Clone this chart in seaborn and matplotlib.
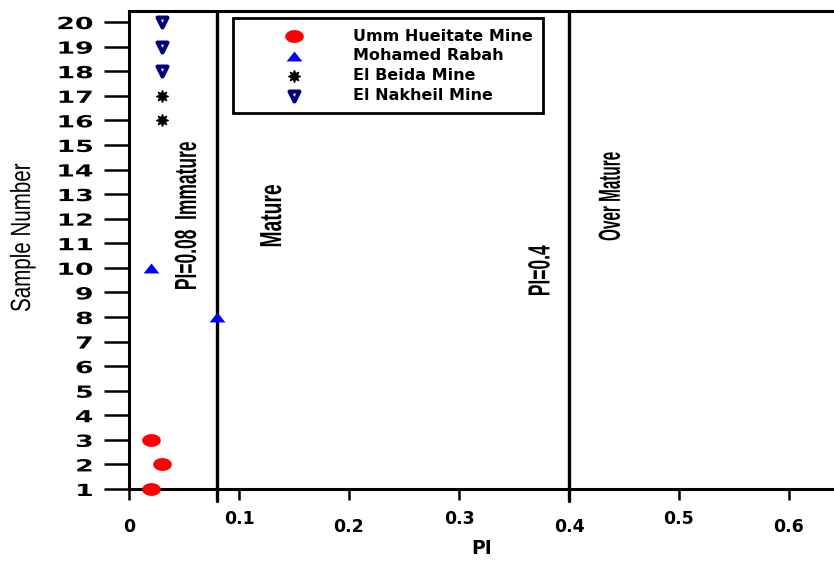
import numpy as np
import pandas as pd
import matplotlib
matplotlib.use('Agg')
import matplotlib.pyplot as plt
from matplotlib.path import Path
from matplotlib.patheffects import AbstractPathEffect
from matplotlib.transforms import Affine2D
import seaborn as sns

# sample data (PI vs sample number)
umm_pi = [0.02, 0.03, 0.02]
umm_sample = [1, 2, 3]
rabah_pi = [0.02, 0.08]
rabah_sample = [10, 8]
beida_pi = [0.03, 0.03]
beida_sample = [16, 17]
nakheil_pi = [0.03, 0.03, 0.03]
nakheil_sample = [18, 19, 20]

x_ticks = [0, 0.1, 0.2, 0.3, 0.4, 0.5, 0.6]
x_tick_labels = ['0', '0.1', '0.2', '0.3', '0.4', '0.5', '0.6']
y_ticks = list(range(1, 21))
boundaries = [0.08, 0.4]

sns.set_style('ticks')
plt.rcParams['font.family'] = ['DejaVu Sans']
for k in ['text.color', 'axes.labelcolor', 'xtick.color', 'ytick.color']:
    plt.rcParams[k] = 'black'
plain = ['Liberation Sans', 'DejaVu Sans']


class Stretch(AbstractPathEffect):
    """squeeze/widen text glyphs along the baseline (narrow font look)"""
    def __init__(self, sx, anchor='center'):
        super().__init__()
        self.sx = sx
        self.anchor = anchor

    def draw_path(self, renderer, gc, tpath, affine, rgbFace=None):
        ext = tpath.get_extents()
        a = {'left': ext.x0, 'center': (ext.x0 + ext.x1) / 2, 'right': ext.x1}[self.anchor]
        t = Affine2D().translate(-a, 0).scale(self.sx, 1).translate(a, 0)
        renderer.draw_path(gc, tpath, t + affine, rgbFace)


# wide ellipse / flat triangle markers
t = np.linspace(0, 2 * np.pi, 40)
ellipse = Path(np.column_stack([1.45 * np.cos(t), np.sin(t)]))
flat_tri = Path([(-0.8, -0.5), (0.8, -0.5), (0, 0.5), (-0.8, -0.5)])

groups = [
    ('Umm Hueitate Mine', umm_pi, umm_sample, dict(marker=ellipse, s=180, color='#ff0000', edgecolor='#ff0000', linewidth=0)),
    ('Mohamed Rabah', rabah_pi, rabah_sample, dict(marker=flat_tri, s=130, color='#0000ff', edgecolor='#0000ff', linewidth=0)),
    ('El Beida Mine', beida_pi, beida_sample, dict(marker=(8, 1, 0), s=70, color='black', edgecolor='black', linewidth=1)),
    ('El Nakheil Mine', nakheil_pi, nakheil_sample, dict(marker='v', s=50, color='white', edgecolor='#000080', linewidth=3)),
]

fig = plt.figure(figsize=(8.34, 5.64), dpi=100)
ax = fig.add_axes([0.1547, 0.133, 0.8453, 0.8475])

for name, xs, ys, style in groups:
    df = pd.DataFrame({'PI': xs, 'Sample': ys})
    sns.scatterplot(data=df, x='PI', y='Sample', ax=ax, label=name, clip_on=False, zorder=5, **style)

for b in boundaries:
    ax.axvline(b, ymin=-0.025, color='black', linewidth=2.4, zorder=3, clip_on=False)

ax.set_xlim(0, 0.641)
ax.set_ylim(1, 20.45)
ax.set_xticks(x_ticks)
ax.set_xticklabels(x_tick_labels)
ax.set_yticks(y_ticks)

for s in ['left', 'bottom', 'top']:
    ax.spines[s].set_linewidth(2.2)
    ax.spines[s].set_color('black')
ax.spines['right'].set_visible(False)

ax.tick_params(axis='y', direction='out', length=18, width=1.8, pad=8, labelsize=12)
ax.tick_params(axis='x', direction='out', length=8, width=1.8, labelsize=12.5)
for i, tick in enumerate(ax.xaxis.get_major_ticks()):
    tick.set_pad(13 if i % 2 == 0 else 7)
for lab in ax.get_xticklabels():
    lab.set_fontweight('bold')
for lab in ax.get_yticklabels():
    lab.set_fontweight('bold')
    lab.set_path_effects([Stretch(1.6, 'right')])

ax.set_xlabel('PI', fontsize=13.5, fontweight='bold')
ax.xaxis.set_label_coords(0.5, -0.105)
ax.set_ylabel('Sample Number', fontsize=20, family=plain)
ax.yaxis.label.set_path_effects([Stretch(0.74)])
ax.yaxis.set_label_coords(-0.132, 0.525)

zones = [
    (0.0536, 12.1, 'PI=0.08  Immature', 0.57),
    (0.131, 12.1, 'Mature', 0.63),
    (0.375, 9.86, 'PI=0.4', 0.57),
    (0.439, 12.9, 'Over Mature', 0.50),
]
for zx, zy, txt, sq in zones:
    ax.text(zx, zy, txt, rotation=90, fontsize=22, family=plain, fontweight='bold',
            ha='center', va='center', path_effects=[Stretch(sq)])

leg = ax.legend(loc='upper left', bbox_to_anchor=(0.1475, 0.985), frameon=True, fancybox=False,
                fontsize=11.5, handlelength=6.3, handletextpad=0.56, labelspacing=0.3,
                borderpad=0.65, borderaxespad=0)
leg.get_frame().set_edgecolor('black')
leg.get_frame().set_linewidth(2)
leg.get_frame().set_alpha(1)
for txt in leg.get_texts():
    txt.set_fontweight('bold')

fig.savefig('out.png', dpi=100)
